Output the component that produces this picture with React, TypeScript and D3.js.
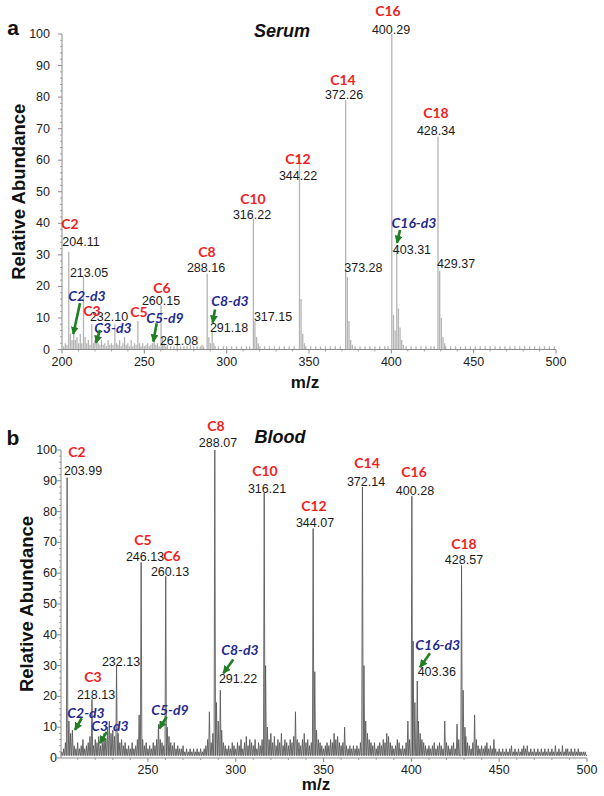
import React from "react";
import * as d3 from "d3";

// ---------------- DATA ----------------
// Serum (panel a) – centroid sticks [m/z, relative abundance]
const SERUM_PEAKS: [number, number][] = [
  [204.11, 31], [213.05, 23], [218.1, 8], [232.1, 8], [246.1, 9], [260.15, 14], [261.08, 4],
  [288.16, 24], [291.18, 6], [316.22, 41.5], [317.15, 9], [344.22, 61.5], [372.26, 79],
  [373.28, 23], [400.29, 100], [403.31, 33], [428.34, 67.5], [429.37, 25],
];
const SERUM_MINOR: [number, number][] = [
  [201, 1], [202, 2], [203, 1.5], [205.1, 5], [206.1, 3], [207.1, 5], [208.1, 3], [209.1, 4], [210.1, 2],
  [211.1, 5], [212, 2], [214, 4], [215, 2], [216, 3], [217, 1.5], [219.1, 2], [220, 3], [221.1, 3],
  [222, 2], [223, 1.5], [224, 3], [225, 1.5], [226, 2], [227, 1], [228, 3], [229, 1.5], [230, 2],
  [231, 1.5], [233.1, 2], [234, 1.5], [235, 3], [236, 1], [237, 2], [238, 4], [239, 1.5], [240, 2],
  [241, 1], [242, 3], [243, 1], [244, 2], [245, 1.5], [247.1, 2], [248, 1], [249, 2], [250, 1],
  [251, 1.5], [252, 2], [253, 1], [254, 1.5], [255, 2], [256, 3], [257, 1.5], [258, 2], [259, 1],
  [262, 2], [263, 1], [264, 1.5], [266, 1], [268, 1], [270, 1.5], [272, 1], [274, 1], [276, 1],
  [278, 1.5], [280, 1], [282, 1], [284, 1], [285, 1.5], [286, 1], [289.2, 4], [290.2, 2], [292.2, 2],
  [293, 1], [295, 1], [298, 1], [300, 1], [303, 1], [306, 1], [309, 1], [312, 1], [314, 1],
  [318.2, 4], [319.2, 2], [320.2, 1], [323, 1], [326, 1], [329, 1], [332, 1], [335, 1], [338, 1],
  [341, 1], [345.2, 16], [346.2, 5], [347.2, 2], [348, 1], [351, 1], [354, 1], [357, 1], [360, 1],
  [363, 1], [366, 1], [369, 1], [374.3, 9], [375.3, 3], [376.3, 1.5], [378, 1], [381, 1], [384, 1],
  [387, 1], [390, 1], [393, 1], [396, 1], [398, 1], [401.3, 11], [402.3, 6], [404.3, 13], [405.3, 7],
  [406.3, 3], [407.3, 1.5], [409, 1], [412, 1], [415, 1], [418, 1], [421, 1], [424, 1], [426, 1],
  [430.4, 10], [431.4, 4], [432.4, 2], [433, 1], [436, 1], [439, 1], [442, 1], [445, 1], [448, 1],
  [451, 1], [454, 1], [457, 1], [460, 1], [463, 1], [466, 1], [469, 1], [472, 1], [475, 1], [478, 1],
  [481, 1], [484, 1], [487, 1], [490, 1], [493, 1], [496, 1], [499, 1],
];

// Blood (panel b) – profile spectrum peaks [m/z, relative abundance]
const BLOOD_PEAKS: [number, number][] = [
  [203.99, 91], [218.13, 19], [232.13, 30], [246.13, 63.5], [260.13, 59], [288.07, 100],
  [291.22, 22], [316.21, 86], [344.07, 74.5], [372.14, 88], [400.28, 85], [403.36, 25], [428.57, 62.5],
];
const BLOOD_MINOR: [number, number][] = [
  [201, 2], [202, 3], [203, 5], [205, 12], [206, 8], [207, 9], [208, 4], [209, 3], [210, 5],
  [211, 3], [212, 4], [213, 6], [214, 3], [215, 4], [216, 5], [217, 7], [219, 4], [220, 6],
  [221, 5], [222, 7], [223, 4], [224, 5], [225, 8], [226, 6], [227, 10], [228, 12], [229, 8],
  [230, 9], [231, 7], [233, 8], [234, 5], [235, 6], [236, 4], [237, 5], [238, 3], [239, 4],
  [240, 3], [241, 5], [242, 3], [243, 4], [244, 6], [245, 14], [247, 6], [248, 4], [249, 5],
  [250, 3], [251, 4], [252, 3], [253, 5], [254, 4], [255, 6], [256, 11], [257, 6], [258, 5],
  [259, 4], [261, 10], [262, 7], [263, 5], [264, 4], [265, 5], [266, 3], [267, 4], [268, 3],
  [269, 3], [270, 4], [271, 2], [272, 3], [273, 2], [274, 3], [275, 2], [276, 3], [277, 2],
  [278, 3], [279, 2], [280, 3], [281, 2], [282, 3], [283, 4], [284, 6], [285, 15], [286, 5],
  [287, 8], [289, 18], [290, 12], [292, 9], [293, 5], [294, 4], [295, 3], [296, 4], [297, 3],
  [298, 5], [299, 4], [300, 3], [301, 5], [302, 4], [303, 6], [304, 3], [305, 5], [306, 7],
  [307, 4], [308, 6], [309, 5], [310, 4], [311, 6], [312, 3], [313, 5], [314, 4], [315, 6],
  [317, 30], [318, 10], [319, 6], [320, 8], [321, 5], [322, 7], [323, 4], [324, 6], [325, 5],
  [326, 8], [327, 4], [328, 6], [329, 5], [330, 4], [331, 6], [332, 5], [333, 7], [334, 15],
  [335, 6], [336, 5], [337, 4], [338, 6], [339, 8], [340, 5], [341, 6], [342, 4], [343, 5],
  [345, 28], [346, 9], [347, 6], [348, 5], [349, 4], [350, 3], [351, 4], [352, 5], [353, 4],
  [354, 6], [355, 5], [356, 8], [357, 6], [358, 7], [359, 5], [360, 4], [361, 5], [362, 10],
  [363, 4], [364, 3], [365, 4], [366, 3], [367, 4], [368, 3], [369, 4], [370, 3], [371, 5],
  [373, 30], [374, 12], [375, 8], [376, 6], [377, 5], [378, 4], [379, 5], [380, 3], [381, 4],
  [382, 5], [383, 4], [384, 6], [385, 5], [386, 8], [387, 7], [388, 5], [389, 4], [390, 3],
  [391, 4], [392, 6], [393, 5], [394, 3], [395, 4], [396, 3], [397, 5], [398, 12], [399, 6],
  [401, 38], [402, 18], [404, 12], [405, 8], [406, 6], [407, 5], [408, 4], [409, 3], [410, 4],
  [411, 3], [412, 4], [413, 5], [414, 3], [415, 4], [416, 5], [417, 4], [418, 3], [419, 12],
  [420, 5], [421, 4], [422, 3], [423, 4], [424, 5], [425, 3], [426, 11], [427, 6], [429.5, 22],
  [430.5, 10], [431, 7], [432, 5], [433, 4], [434, 3], [435, 5], [436, 14], [437, 6], [438, 4],
  [439, 3], [440, 4], [441, 3], [442, 4], [443, 5], [444, 3], [445, 4], [446, 3], [447, 6],
  [448, 3], [449, 2], [450, 3], [451, 2], [452, 3], [453, 2], [454, 3], [455, 2], [456, 3],
  [457, 4], [458, 2], [459, 3], [460, 2], [461, 3], [462, 2], [463, 3], [464, 4], [465, 3],
  [466, 4], [467, 2], [468, 3], [469, 2], [470, 3], [471, 2], [472, 3], [473, 2], [474, 3],
  [475, 2], [476, 3], [477, 2], [478, 3], [479, 2], [480, 3], [481, 2], [482, 4], [483, 2],
  [484, 3], [485, 2], [486, 4], [487, 2], [488, 3], [489, 3], [490, 2], [491, 3], [492, 2],
  [493, 3], [494, 2], [495, 3], [496, 2], [497, 2], [498, 2], [499, 2],
];

// Annotations: [text, m/z, abundance] (label centre in data units)
const SERUM_NAMES: [string, number, number][] = [
  ["C2", 204.86, 39.8], ["C3", 218.22, 12.5], ["C5", 246.76, 12.2], ["C6", 260.73, 19.8],
  ["C8", 288.06, 31.2], ["C10", 315.99, 48.0], ["C12", 343.32, 60.4], ["C14", 370.65, 85.7],
  ["C16", 397.98, 107.3], ["C18", 427.13, 75.0],
];
const SERUM_MZ: [string, number, number][] = [
  ["204.11", 211.54, 34.1], ["213.05", 216.4, 24.3], ["232.10", 228.54, 10.3], ["260.15", 260.12, 15.4],
  ["261.08", 271.05, 2.7], ["288.16", 287.45, 25.8], ["291.18", 301.42, 6.8], ["316.22", 315.38, 42.6],
  ["317.15", 328.14, 10.3], ["344.22", 343.32, 55.0], ["372.26", 371.26, 80.7], ["373.28", 383.02, 25.8],
  ["400.29", 399.8, 101.3], ["403.31", 412.53, 31.5], ["428.34", 427.13, 69.3], ["429.37", 439.27, 27.1],
];
const SERUM_ISO: [string, number, number][] = [
  ["C2-d3", 215.18, 17.0], ["C3-d3", 230.97, 7.1], ["C5-d9", 262.55, 10.0], ["C8-d3", 302.02, 15.4],
  ["C16-d3", 413.77, 40.4],
];
const SERUM_ARROWS: [number, number, number, number][] = [
  [210.93, 14.7, 206.86, 4.9], [223.08, 6.2, 220.65, 2.1], [257.51, 8.3, 255.44, 2.5],
  [292.91, 12.7, 291.52, 8.5], [405.26, 37.9, 403.44, 33.8],
];

const BLOOD_NAMES: [string, number, number][] = [
  ["C2", 209.61, 99.4], ["C3", 218.72, 26.5], ["C5", 247.19, 70.8], ["C6", 263.7, 65.6],
  ["C8", 288.76, 108.1], ["C10", 316.66, 93.5], ["C12", 344.56, 82.1], ["C14", 374.74, 95.8],
  ["C16", 401.5, 92.9], ["C18", 429.96, 69.8],
];
const BLOOD_MZ: [string, number, number][] = [
  ["203.99", 213.03, 93.2], ["218.13", 220.43, 20.5], ["232.13", 234.66, 31.2], ["246.13", 248.33, 65.4],
  ["260.13", 262.56, 60.4], ["288.07", 289.89, 102.3], ["291.22", 301.28, 25.5], ["316.21", 317.8, 87.3],
  ["344.07", 345.13, 76.3], ["372.14", 374.17, 89.6], ["400.28", 402.06, 86.7], ["403.36", 414.45, 27.8],
  ["428.57", 429.96, 64.3],
];
const BLOOD_ISO: [string, number, number][] = [
  ["C2-d3", 214.74, 14.9], ["C3-d3", 228.4, 10.6], ["C5-d9", 262.56, 15.8], ["C8-d3", 302.42, 35.1],
  ["C16-d3", 415.02, 36.7],
];
const BLOOD_ARROWS: [number, number, number, number][] = [
  [212.29, 12.9, 208.47, 9.1], [226.52, 8.5, 222.71, 4.8], [260.68, 13.4, 256.47, 9.6],
  [298.61, 32.0, 292.91, 27.5], [410.6, 34.0, 404.91, 29.5],
];

const Y_TICKS = [0, 10, 20, 30, 40, 50, 60, 70, 80, 90, 100];
const SERUM_X_TICKS = [200, 250, 300, 350, 400, 450, 500];
const BLOOD_X_TICKS = [250, 300, 350, 400, 450, 500];

// ---------------- STYLE ----------------
const ARIAL = "'Liberation Sans', Arial, sans-serif";
const LABEL_FONT = "Lato, 'Open Sans', sans-serif";
const RED = "#f01e1e";
const BLUE = "#1f2a8f";
const GREEN = "#1f7f22";
const AXIS = "#8a8a8a";

type PanelProps = {
  id: string;
  letter: string;
  title: string;
  titleX: number;
  titleY: number;
  xRange: [number, number];
  yRange: [number, number];
  xDomain: [number, number];
  xTicks: number[];
  yLabelEnd: number;
  xTickY: number;
  mzX: number;
  mzY: number;
  yTitleX: number;
  letterY: number;
  kind: "stick" | "profile";
  peaks: [number, number][];
  minor: [number, number][];
  names: [string, number, number][];
  mz: [string, number, number][];
  iso: [string, number, number][];
  arrows: [number, number, number, number][];
};

function Panel(p: PanelProps) {
  const x = d3.scaleLinear().domain(p.xDomain).range(p.xRange);
  const y = d3.scaleLinear().domain([0, 100]).range(p.yRange);
  const [x0, x1] = p.xRange;
  const [y0, y1] = p.yRange;

  const all = [...p.peaks, ...p.minor].sort((a, b) => a[0] - b[0]);

  let profilePath = "";
  if (p.kind === "profile") {
    const pts: [number, number][] = [[p.xDomain[0], 0.8]];
    all.forEach(([m, h]) => {
      pts.push([m - 0.42, 0.8]);
      pts.push([m, h]);
      pts.push([m + 0.42, 0.8]);
    });
    pts.push([p.xDomain[1], 0.8]);
    const line = d3
      .line<[number, number]>()
      .x((d) => x(d[0]))
      .y((d) => y(d[1]));
    profilePath = line(pts) || "";
  }

  const minorY = d3.range(0, 101, 2).filter((v) => v % 10 !== 0);
  const minorX = d3.range(210, 500, 10).filter((v) => v % 50 !== 0 && v >= p.xDomain[0]);

  return (
    <g>
      <defs>
        <marker
          id={`arr-${p.id}`}
          viewBox="0 0 10 10"
          refX="9"
          refY="5"
          markerWidth="8"
          markerHeight="8"
          markerUnits="userSpaceOnUse"
          orient="auto"
        >
          <path d="M0,0 L10,5 L0,10 z" fill={GREEN} />
        </marker>
      </defs>

      {/* spectrum */}
      {p.kind === "stick" ? (
        <g>
          {all.map(([m, h], i) => (
            <line
              key={i}
              x1={x(m)}
              x2={x(m)}
              y1={y(0)}
              y2={y(h)}
              stroke="#b4b4b4"
              strokeWidth={1.3}
            />
          ))}
        </g>
      ) : (
        <path d={profilePath} fill="none" stroke="#5a5a5a" strokeWidth={0.9} />
      )}

      {/* axes */}
      <line x1={x0} x2={x0} y1={y0} y2={y1} stroke={AXIS} strokeWidth={1} />
      <line x1={x0} x2={x1} y1={y0} y2={y0} stroke={AXIS} strokeWidth={1} />
      {Y_TICKS.map((t) => (
        <g key={`yt${t}`}>
          <line x1={x0 - 4} x2={x0} y1={y(t)} y2={y(t)} stroke={AXIS} />
          <text
            x={p.yLabelEnd}
            y={y(t)}
            textAnchor="end"
            dominantBaseline="central"
            fontFamily={ARIAL}
            fontSize={12.5}
            fill="#222"
          >
            {t}
          </text>
        </g>
      ))}
      {minorY.map((t) => (
        <line key={`ym${t}`} x1={x0 - 2} x2={x0} y1={y(t)} y2={y(t)} stroke={AXIS} strokeWidth={0.8} />
      ))}
      {p.xTicks.map((t) => (
        <g key={`xt${t}`}>
          <line x1={x(t)} x2={x(t)} y1={y0} y2={y0 + 4} stroke={AXIS} />
          <text
            x={x(t)}
            y={p.xTickY}
            textAnchor="middle"
            dominantBaseline="central"
            fontFamily={ARIAL}
            fontSize={12.5}
            fill="#222"
          >
            {t}
          </text>
        </g>
      ))}
      {minorX.map((t) => (
        <line key={`xm${t}`} x1={x(t)} x2={x(t)} y1={y0} y2={y0 + 2} stroke={AXIS} strokeWidth={0.8} />
      ))}

      {/* axis titles */}
      <text
        transform={`translate(${p.yTitleX},${(y0 + y1) / 2}) rotate(-90)`}
        textAnchor="middle"
        dominantBaseline="central"
        fontFamily={ARIAL}
        fontWeight="bold"
        fontSize={18.5}
        fill="#111"
      >
        Relative Abundance
      </text>
      <text
        x={p.mzX}
        y={p.mzY}
        textAnchor="middle"
        dominantBaseline="central"
        fontFamily={ARIAL}
        fontWeight="bold"
        fontSize={17}
        fill="#111"
      >
        m/z
      </text>
      <text
        x={p.titleX}
        y={p.titleY}
        textAnchor="middle"
        dominantBaseline="central"
        fontFamily={ARIAL}
        fontWeight="bold"
        fontStyle="italic"
        fontSize={18}
        fill="#111"
      >
        {p.title}
      </text>
      <text
        x={13}
        y={p.letterY}
        textAnchor="middle"
        dominantBaseline="central"
        fontFamily={ARIAL}
        fontWeight="bold"
        fontSize={21}
        fill="#111"
      >
        {p.letter}
      </text>

      {/* annotations */}
      {p.mz.map(([t, m, a]) => (
        <text
          key={`mz${t}`}
          x={x(m)}
          y={y(a)}
          textAnchor="middle"
          dominantBaseline="central"
          fontFamily={ARIAL}
          fontSize={12.5}
          fill="#1a1a1a"
        >
          {t}
        </text>
      ))}
      {p.names.map(([t, m, a]) => (
        <text
          key={`nm${t}`}
          x={x(m)}
          y={y(a)}
          textAnchor="middle"
          dominantBaseline="central"
          fontFamily={LABEL_FONT}
          fontWeight="bold"
          fontSize={14}
          fill={RED}
        >
          {t}
        </text>
      ))}
      {p.iso.map(([t, m, a]) => (
        <text
          key={`iso${t}`}
          x={x(m)}
          y={y(a)}
          textAnchor="middle"
          dominantBaseline="central"
          fontFamily={LABEL_FONT}
          fontWeight="bold"
          fontStyle="italic"
          fontSize={14}
          fill={BLUE}
        >
          {t}
        </text>
      ))}
      {p.arrows.map(([m1, a1, m2, a2], i) => (
        <line
          key={`ar${i}`}
          x1={x(m1)}
          y1={y(a1)}
          x2={x(m2)}
          y2={y(a2)}
          stroke={GREEN}
          strokeWidth={2.6}
          markerEnd={`url(#arr-${p.id})`}
        />
      ))}
    </g>
  );
}

export default function App() {
  return (
    <svg
      width={604}
      height={796}
      style={{ position: "absolute", left: 0, top: 0, background: "#fff" }}
    >
      <rect width={604} height={796} fill="#fff" />
      <Panel
        id="a"
        letter="a"
        title="Serum"
        titleX={282}
        titleY={31}
        xRange={[62, 556]}
        yRange={[349.5, 34]}
        xDomain={[200, 500]}
        xTicks={SERUM_X_TICKS}
        yLabelEnd={50}
        xTickY={362}
        mzX={305}
        mzY={382}
        yTitleX={18}
        letterY={27}
        kind="stick"
        peaks={SERUM_PEAKS}
        minor={SERUM_MINOR}
        names={SERUM_NAMES}
        mz={SERUM_MZ}
        iso={SERUM_ISO}
        arrows={SERUM_ARROWS}
      />
      <Panel
        id="b"
        letter="b"
        title="Blood"
        titleX={280}
        titleY={437}
        xRange={[61, 587]}
        yRange={[758, 450]}
        xDomain={[200.5, 500]}
        xTicks={BLOOD_X_TICKS}
        yLabelEnd={57}
        xTickY={770}
        mzX={316}
        mzY={784}
        yTitleX={26}
        letterY={437}
        kind="profile"
        peaks={BLOOD_PEAKS}
        minor={BLOOD_MINOR}
        names={BLOOD_NAMES}
        mz={BLOOD_MZ}
        iso={BLOOD_ISO}
        arrows={BLOOD_ARROWS}
      />
    </svg>
  );
}
